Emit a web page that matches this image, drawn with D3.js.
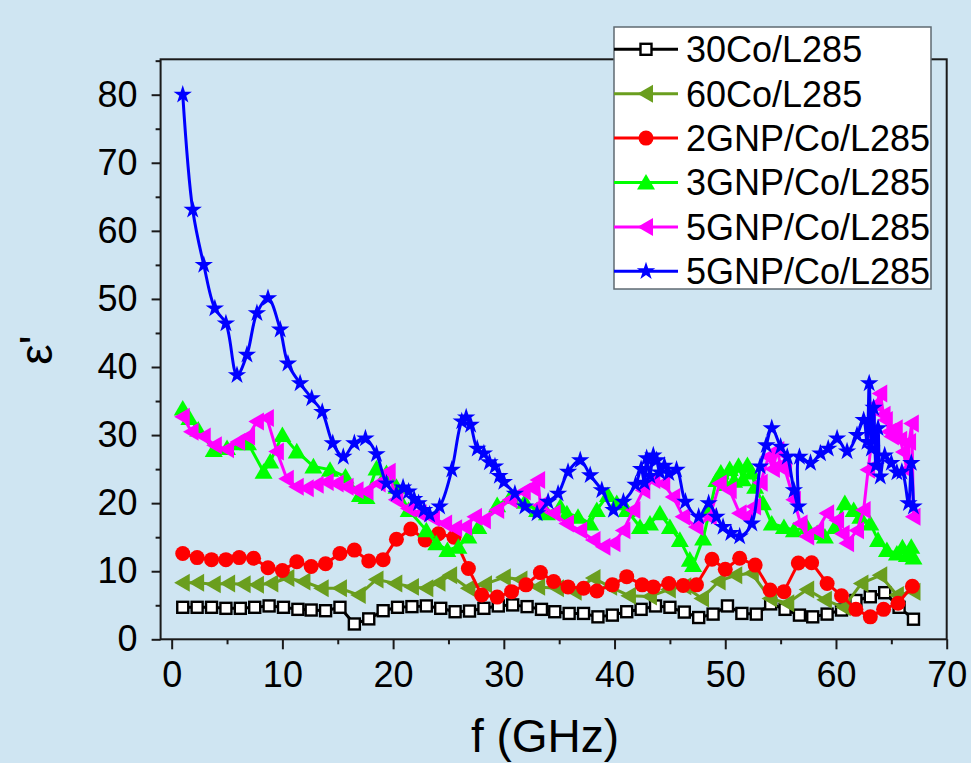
<!DOCTYPE html>
<html>
<head>
<meta charset="utf-8">
<script src="https://cdn.jsdelivr.net/npm/d3@7"></script>
<style>
  html, body { margin: 0; padding: 0; background: #cfe5f2; }
  svg { display: block; }
  text { font-family: "Liberation Sans", Arial, sans-serif; fill: #000; }
</style>
</head>
<body>
<svg id="chart" width="971" height="763"></svg>
<script>
// ---- data: real permittivity vs frequency ----
const xTicks = [0, 10, 20, 30, 40, 50, 60, 70];
const yTicks = [0, 10, 20, 30, 40, 50, 60, 70, 80];
const seriesNames = ["30Co/L285", "60Co/L285", "2GNP/Co/L285", "3GNP/Co/L285", "5GNP/Co/L285", "5GNP/Co/L285"];

const f30Co = [1.0, 2.3, 3.6, 4.9, 6.2, 7.5, 8.8, 10.1, 11.4, 12.6, 13.9, 15.2, 16.5, 17.8, 19.1, 20.4, 21.7, 23.0, 24.3, 25.6, 26.9, 28.2, 29.5, 30.8, 32.1, 33.4, 34.6, 35.9, 37.2, 38.5, 39.8, 41.1, 42.4, 43.7, 45.0, 46.3, 47.6, 48.9, 50.2, 51.5, 52.8, 54.1, 55.4, 56.7, 57.9, 59.2, 60.5, 61.8, 63.1, 64.4, 65.7, 67.0];
const e30Co = [4.7, 4.7, 4.7, 4.55, 4.55, 4.7, 4.9, 4.7, 4.4, 4.3, 4.2, 4.7, 2.25, 3.0, 4.2, 4.7, 4.8, 4.9, 4.55, 4.05, 4.15, 4.55, 4.9, 5.05, 4.8, 4.4, 4.05, 3.8, 3.8, 3.3, 3.55, 4.05, 4.4, 4.9, 4.7, 4.0, 3.2, 3.7, 4.9, 3.8, 3.7, 5.2, 4.4, 3.55, 3.3, 3.7, 4.3, 5.7, 6.25, 6.85, 4.7, 2.95];

const f60Co = [1.0, 2.3, 3.8, 5.1, 6.5, 7.7, 9.0, 10.45, 11.9, 13.55, 15.2, 16.9, 18.5, 20.2, 21.7, 23.0, 24.1, 25.15, 26.8, 28.3, 30.0, 31.5, 33.1, 34.8, 36.4, 38.1, 39.6, 41.3, 43.2, 44.9, 46.3, 47.9, 49.4, 50.9, 52.4, 54.05, 55.6, 57.4, 59.0, 60.7, 62.3, 64.0, 65.5, 67.0];
const e60Co = [8.3, 8.3, 8.1, 8.2, 8.1, 8.0, 8.2, 9.0, 8.5, 7.5, 7.5, 6.5, 8.8, 8.2, 7.7, 7.5, 8.3, 9.4, 7.5, 8.1, 9.1, 8.8, 7.7, 7.5, 7.0, 9.0, 7.7, 6.4, 6.3, 7.3, 7.8, 6.0, 8.5, 9.4, 9.7, 6.0, 5.3, 7.3, 5.8, 4.7, 8.2, 9.4, 6.5, 7.0];

const f2GNP = [1.0, 2.3, 3.6, 4.9, 6.1, 7.4, 8.7, 10.0, 11.3, 12.6, 13.9, 15.2, 16.5, 17.8, 19.1, 20.3, 21.6, 22.9, 24.1, 25.5, 26.8, 28.0, 29.4, 30.7, 32.0, 33.3, 34.5, 35.8, 37.2, 38.4, 39.8, 41.1, 42.5, 43.5, 44.9, 46.2, 47.4, 48.8, 50.0, 51.3, 52.7, 54.05, 55.3, 56.6, 57.8, 59.2, 60.5, 61.8, 63.1, 64.3, 65.6, 66.9];
const e2GNP = [12.6, 12.0, 11.7, 11.7, 12.0, 11.9, 10.5, 10.1, 11.4, 10.7, 11.1, 12.6, 13.1, 11.5, 11.7, 14.7, 16.2, 14.6, 15.5, 15.0, 10.4, 6.5, 6.2, 7.0, 8.0, 9.8, 8.5, 7.7, 7.5, 7.1, 8.0, 9.2, 8.0, 7.7, 8.2, 7.9, 8.0, 11.75, 10.3, 11.9, 10.9, 7.25, 7.0, 11.2, 11.25, 8.2, 6.4, 4.4, 3.3, 4.4, 5.3, 7.8];

const f3GNP = [1.0, 1.6, 2.4, 3.8, 5.0, 6.3, 6.9, 8.3, 8.9, 10.0, 11.3, 12.8, 14.3, 15.7, 17.0, 17.6, 18.5, 19.4, 20.3, 21.4, 23.0, 23.9, 24.9, 25.9, 26.8, 27.7, 29.4, 30.6, 31.9, 33.0, 33.9, 35.1, 35.7, 36.7, 37.8, 38.4, 39.4, 40.2, 41.1, 42.3, 43.2, 44.1, 45.0, 45.9, 46.8, 47.1, 48.0, 48.6, 49.2, 49.6, 50.0, 50.4, 50.8, 51.2, 51.6, 52.0, 52.4, 52.7, 53.4, 54.2, 55.3, 56.2, 57.4, 58.3, 59.0, 59.9, 60.8, 61.6, 62.2, 63.1, 63.8, 64.6, 65.5, 66.0, 66.4, 66.8, 67.0];
const e3GNP = [33.9, 32.5, 30.8, 27.8, 28.1, 28.8, 28.8, 24.6, 26.1, 30.0, 27.6, 25.4, 24.9, 23.9, 21.2, 20.9, 25.1, 24.4, 22.4, 19.0, 16.0, 14.1, 13.1, 13.6, 15.1, 16.5, 19.7, 20.9, 20.2, 19.0, 18.5, 19.5, 18.5, 18.0, 17.0, 19.0, 21.2, 20.0, 19.0, 16.5, 17.0, 18.5, 16.5, 14.6, 11.7, 10.9, 14.8, 19.0, 23.4, 24.5, 22.8, 25.0, 23.3, 25.5, 23.5, 25.6, 24.5, 22.4, 20.0, 17.0, 16.5, 16.0, 16.5, 15.6, 15.1, 16.5, 20.0, 19.0, 18.0, 17.0, 14.6, 13.1, 12.6, 13.5, 12.4, 13.6, 12.0];

const f5GNPa = [1.0, 1.8, 2.9, 3.9, 5.0, 6.0, 6.9, 7.7, 8.6, 9.5, 10.4, 11.3, 12.2, 13.1, 14.0, 14.9, 15.8, 16.7, 17.6, 18.7, 19.6, 20.3, 21.4, 22.4, 23.6, 24.7, 25.6, 26.5, 27.4, 28.2, 29.4, 30.6, 31.8, 32.5, 33.1, 33.3, 34.5, 35.7, 36.9, 38.1, 39.0, 39.9, 40.8, 41.7, 42.6, 43.5, 44.4, 45.3, 46.2, 47.4, 48.6, 49.5, 50.4, 51.3, 51.9, 52.6, 53.2, 53.9, 54.3, 54.7, 55.0, 55.4, 56.2, 56.8, 57.4, 58.3, 59.2, 60.1, 60.6, 61.0, 61.9, 62.5, 62.9, 63.3, 63.6, 64.0, 64.3, 64.5, 64.8, 65.05, 65.4, 65.8, 66.1, 66.4, 66.6, 66.85, 67.0];
const e5GNPa = [32.7, 30.5, 29.8, 28.5, 27.9, 29.0, 29.8, 32.0, 32.5, 27.6, 23.6, 22.4, 22.2, 22.7, 23.1, 22.9, 22.4, 21.9, 21.7, 22.9, 24.6, 20.5, 19.2, 18.5, 17.8, 17.0, 16.3, 16.5, 18.0, 17.5, 19.0, 20.5, 21.7, 22.3, 23.4, 19.7, 18.5, 17.0, 16.0, 14.6, 13.6, 14.1, 16.0, 19.0, 21.9, 23.4, 22.9, 20.9, 18.0, 16.5, 18.0, 22.9, 21.9, 18.5, 18.0, 19.5, 23.0, 26.8, 25.0, 27.8, 25.5, 24.9, 20.5, 17.0, 15.1, 16.0, 18.5, 17.5, 15.5, 14.1, 16.0, 19.0, 24.9, 30.0, 34.5, 36.1, 33.0, 32.2, 30.5, 29.8, 31.0, 29.3, 27.5, 24.9, 29.0, 31.7, 18.0];

const f5GNPb = [1.0, 1.9, 2.9, 3.9, 4.9, 5.9, 6.8, 7.7, 8.7, 9.8, 10.5, 11.6, 12.65, 13.6, 14.55, 15.5, 16.5, 17.5, 18.5, 19.4, 20.3, 20.9, 21.4, 21.9, 22.3, 22.8, 23.3, 24.2, 25.3, 26.2, 26.6, 27.0, 27.6, 28.2, 28.7, 29.2, 29.6, 30.0, 31.0, 31.9, 33.0, 34.0, 34.9, 35.8, 36.9, 37.8, 38.85, 39.9, 40.8, 41.9, 42.4, 42.7, 42.9, 43.2, 43.5, 43.8, 44.1, 44.5, 44.9, 45.6, 46.4, 47.6, 48.5, 49.2, 49.8, 50.5, 51.3, 52.4, 53.15, 53.7, 54.2, 55.0, 55.6, 56.2, 56.6, 56.7, 57.7, 58.6, 59.3, 60.1, 61.0, 61.9, 62.5, 62.8, 63.0, 63.2, 63.4, 63.6, 63.8, 64.0, 64.4, 65.0, 65.5, 65.95, 66.55, 66.8, 67.0];
const e5GNPb = [80.0, 63.1, 55.0, 48.6, 46.4, 38.8, 41.8, 47.9, 50.1, 45.5, 40.5, 37.6, 35.4, 33.4, 28.8, 26.8, 28.8, 29.5, 27.2, 22.9, 21.4, 22.3, 21.7, 20.6, 20.0, 19.0, 18.3, 19.5, 24.9, 32.0, 32.6, 31.5, 28.0, 27.3, 26.0, 25.4, 24.0, 23.1, 21.4, 19.5, 18.5, 20.2, 21.4, 24.6, 26.3, 24.1, 21.9, 19.0, 20.2, 22.7, 25.0, 23.0, 26.6, 24.0, 27.0, 26.3, 24.5, 25.5, 24.4, 24.9, 20.2, 18.0, 20.0, 18.0, 16.5, 15.6, 15.1, 17.0, 25.4, 28.5, 31.0, 28.3, 26.8, 21.9, 19.5, 26.8, 25.9, 27.3, 28.0, 29.5, 27.6, 30.0, 32.2, 29.0, 37.6, 28.0, 34.0, 25.5, 31.0, 23.9, 27.0, 25.9, 24.5, 24.6, 20.0, 25.9, 19.5];

// ---- layout ----
const svg = d3.select("#chart");
const plot = { left: 160.6, right: 946.7, top: 59.3, bottom: 639.3 };

const x = d3.scaleLinear().domain([-1, 70]).range([plot.left, plot.right]);
const y = d3.scaleLinear().domain([0, 85.2]).range([plot.bottom, plot.top]);

const zip = (fs, es) => fs.map((f, i) => ({ f, e: es[i] }));

const series = [
  { name: seriesNames[0], data: zip(f30Co, e30Co), color: "#000000", marker: "square" },
  { name: seriesNames[1], data: zip(f60Co, e60Co), color: "#6a9e1e", marker: "triLeft" },
  { name: seriesNames[2], data: zip(f2GNP, e2GNP), color: "#ff0000", marker: "circle" },
  { name: seriesNames[3], data: zip(f3GNP, e3GNP), color: "#00ff00", marker: "triUp" },
  { name: seriesNames[4], data: zip(f5GNPa, e5GNPa), color: "#ff00ff", marker: "triLeft" },
  { name: seriesNames[5], data: zip(f5GNPb, e5GNPb), color: "#0000ff", marker: "star", curve: true }
];

// marker drawing
function drawMarker(g, type, color) {
  if (type === "square") {
    g.append("rect").attr("x", -5.5).attr("y", -5.5).attr("width", 11).attr("height", 11)
      .attr("fill", "#ffffff").attr("stroke", "#000000").attr("stroke-width", 2.4);
  } else if (type === "circle") {
    g.append("circle").attr("r", 7.5).attr("fill", color);
  } else if (type === "triUp") {
    g.append("path").attr("d", d3.symbol(d3.symbolTriangle, 140)()).attr("transform", "translate(0,1.8)").attr("fill", color);
  } else if (type === "triLeft") {
    g.append("path").attr("d", d3.symbol(d3.symbolTriangle, 140)()).attr("transform", "translate(1.8,0) rotate(-90)").attr("fill", color);
  } else if (type === "star") {
    g.append("path").attr("d", d3.symbol(d3.symbolStar, 105)()).attr("fill", color);
  }
}

// ---- axes ----
const axisColor = "#1a1a1a";

const yAxis = svg.append("g").attr("transform", `translate(${plot.left},0)`)
  .call(d3.axisLeft(y).tickValues(yTicks).tickSize(9).tickPadding(14).tickFormat(d3.format("d")));
const yMinor = svg.append("g").attr("transform", `translate(${plot.left},0)`)
  .call(d3.axisLeft(y).tickValues([5, 15, 25, 35, 45, 55, 65, 75, 85]).tickSize(5).tickFormat(""));
const xAxis = svg.append("g").attr("transform", `translate(0,${plot.bottom})`)
  .call(d3.axisBottom(x).tickValues(xTicks).tickSize(10).tickPadding(12).tickFormat(d3.format("d")));
const xMinor = svg.append("g").attr("transform", `translate(0,${plot.bottom})`)
  .call(d3.axisBottom(x).tickValues([5, 15, 25, 35, 45, 55, 65]).tickSize(5).tickFormat(""));

[yAxis, yMinor, xAxis, xMinor].forEach(a => {
  a.select(".domain").remove();
  a.selectAll(".tick line").attr("stroke", axisColor).attr("stroke-width", 2);
  a.selectAll(".tick text").attr("font-size", 36).attr("font-family", "'Liberation Sans', Arial, sans-serif").attr("fill", "#000");
});

// frame
svg.append("rect")
  .attr("x", plot.left).attr("y", plot.top)
  .attr("width", plot.right - plot.left).attr("height", plot.bottom - plot.top)
  .attr("fill", "none").attr("stroke", axisColor).attr("stroke-width", 2);

// axis titles
svg.append("text")
  .attr("x", 545).attr("y", 752)
  .attr("text-anchor", "middle").attr("font-size", 46)
  .text("f (GHz)");

svg.append("text")
  .attr("transform", "translate(52,350) rotate(-90)")
  .attr("text-anchor", "middle").attr("font-size", 46)
  .text("ε'");

// ---- series ----
const plotG = svg.append("g");
series.forEach(s => {
  const line = d3.line().x(d => x(d.f)).y(d => y(d.e));
  if (s.curve) line.curve(d3.curveCatmullRom.alpha(0.5));
  plotG.append("path")
    .attr("d", line(s.data))
    .attr("fill", "none")
    .attr("stroke", s.color)
    .attr("stroke-width", 3)
    .attr("stroke-linejoin", "round");
  s.data.forEach(d => {
    const g = plotG.append("g").attr("transform", `translate(${x(d.f)},${y(d.e)})`);
    drawMarker(g, s.marker, s.color);
  });
});

// ---- legend ----
const legend = svg.append("g");
legend.append("rect")
  .attr("x", 614).attr("y", 27).attr("width", 317).attr("height", 262)
  .attr("fill", "#ffffff").attr("stroke", "#5f6a72").attr("stroke-width", 1.5);

series.forEach((s, i) => {
  const ly = 49.3 + i * 44.4;
  legend.append("line")
    .attr("x1", 614).attr("x2", 678).attr("y1", ly).attr("y2", ly)
    .attr("stroke", s.color).attr("stroke-width", 3);
  const g = legend.append("g").attr("transform", `translate(646,${ly})`);
  drawMarker(g, s.marker, s.color);
  legend.append("text")
    .attr("x", 686).attr("y", ly + 12.8)
    .attr("font-size", 36)
    .text(s.name);
});
</script>
</body>
</html>
